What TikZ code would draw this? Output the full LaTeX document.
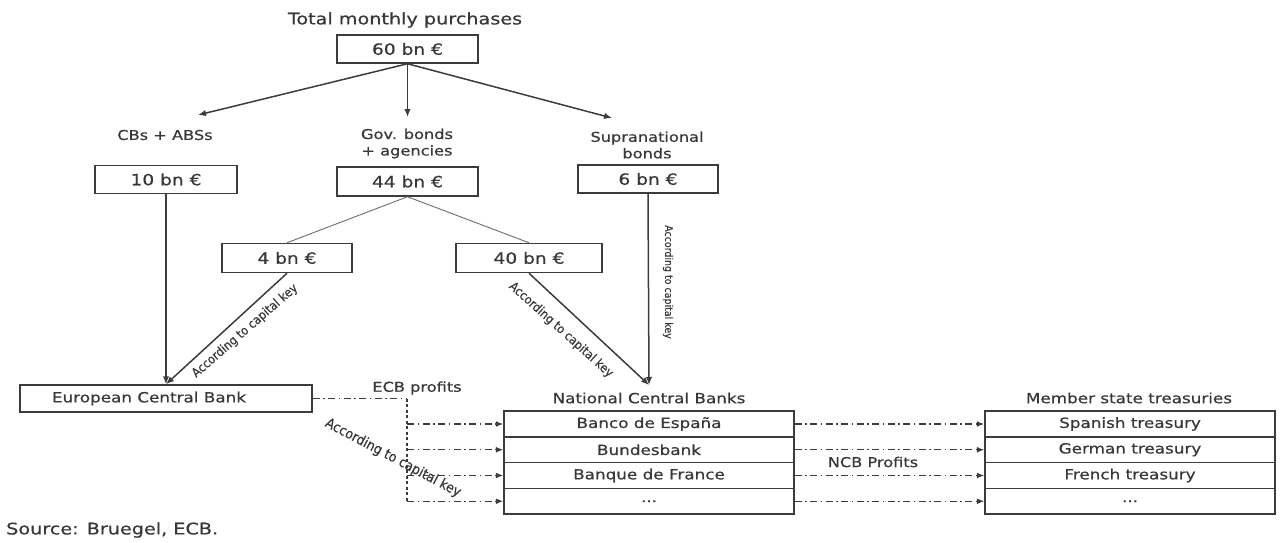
\documentclass[tikz,border=0pt]{standalone}
\usepackage{fontspec}
\setmainfont[FakeStretch=1.2,FakeBold=0.6]{DejaVu Sans}
\newfontfamily\condfont[FakeStretch=0.9,FakeBold=0.4]{DejaVu Sans}
\usetikzlibrary{arrows.meta}
\definecolor{ink}{HTML}{383838}
\definecolor{lineink}{HTML}{3C3C3C}
\begin{document}
\begin{tikzpicture}[x=1pt,y=-1pt,
  every node/.style={text=ink},
  box/.style={draw=lineink,line width=1.5pt,minimum height=28pt,inner sep=0pt,font=\fontsize{15.5}{18}\selectfont},
  rowbox/.style={draw=lineink,line width=1.5pt,minimum width=290pt,minimum height=25.75pt,inner sep=0pt,font=\fontsize{14}{16}\selectfont},
  lbl/.style={inner sep=1pt,align=center,font=\fontsize{13.5}{16.5}\selectfont},
  rot/.style={inner sep=0pt,font=\condfont\fontsize{12.5}{14}\selectfont},
  arr/.style={draw=lineink,line width=1.5pt,-{Latex[length=8pt,width=6.5pt]}},
  thin/.style={draw=lineink!75,line width=0.9pt},
  dd/.style={draw=lineink,line width=1.3pt,dash pattern=on 7pt off 3.5pt on 1.5pt off 3.5pt},
  dda/.style={dd,-{Latex[length=7.5pt,width=6pt]}},
  vd/.style={draw=lineink,line width=1.3pt,dash pattern=on 3pt off 2.5pt}
]
\useasboundingbox (0,0) rectangle (1282,543);
% titles and labels
\node[lbl,font=\fontsize{16}{19}\selectfont] (title) at (405,20) {Total monthly purchases};
\node[box,minimum width=141pt] (b60) at (407.5,49) {60 bn €};
\node[lbl] (lcb) at (165,135) {CBs + ABSs};
\node[lbl] (lgov) at (407,143.5) {Gov. bonds\\+ agencies};
\node[lbl] (lsup) at (647,145) {Supranational\\bonds};
\coordinate (tcb) at (198,115);
\coordinate (tgov) at (407.5,117);
\coordinate (tsup) at (612,118);
\draw[arr] (b60.south) -- (tcb);
\draw[arr] (b60.south) -- (tgov);
\draw[arr] (b60.south) -- (tsup);
% second level boxes
\node[box,minimum width=142pt] (b10) at (166,179.5) {10 bn €};
\node[box,minimum width=141pt,minimum height=29pt] (b44) at (407.5,181.5) {44 bn €};
\node[box,minimum width=140pt] (b6) at (648,179) {6 bn €};
\node[box,minimum width=130pt,minimum height=29pt] (b4) at (287,258) {4 bn €};
\node[box,minimum width=146pt,minimum height=29pt] (b40) at (529,258) {40 bn €};
\draw[thin] (b44.south) -- (b4.north);
\draw[thin] (b44.south) -- (b40.north);
% ECB
\node[box,minimum width=292pt,minimum height=27pt,font=\fontsize{14}{16}\selectfont] (ecb) at (166,398.5) {\makebox[264pt][l]{\hspace{18pt}European Central Bank}};
\draw[arr] (b10.south) -- (b10.south |- ecb.north);
\draw[arr] (b4.south) -- (ecb.north);
\node[rot,rotate=41] (k1) at (245,331) {According to capital key};
% NCB
\node[lbl,font=\fontsize{14}{16}\selectfont] (lncb) at (649,398) {National Central Banks};
\coordinate (tncb) at (649,385);
\draw[arr] (b40.south) -- (tncb);
\draw[arr] (b6.south) -- (tncb);
\node[rot,rotate=-42] (k2) at (561,330) {According to capital key};
\node[rot,rotate=-90,font=\condfont\fontsize{10.5}{12}\selectfont] (k3) at (668,282) {According to capital key};
\node[rowbox] (n1) at (649,424) {Banco de España};
\node[rowbox] (n2) at (649,449.75) {Bundesbank};
\node[rowbox] (n3) at (649,475.5) {Banque de France};
\node[rowbox] (n4) at (649,501.25) {...};
% treasuries
\node[lbl,font=\fontsize{14}{16}\selectfont] (ltr) at (1129,398) {Member state treasuries};
\node[rowbox] (t1) at (1130,424) {Spanish treasury};
\node[rowbox] (t2) at (1130,449.75) {German treasury};
\node[rowbox] (t3) at (1130,475.5) {French treasury};
\node[rowbox] (t4) at (1130,501.25) {...};
% ECB profits
\coordinate (split) at (407,398.5);
\coordinate (sbot) at (407,501.25);
\draw[dd] (ecb.east) -- (split);
\draw[vd] (split) -- (sbot);
\foreach \r in {n1,n2,n3,n4} {\draw[dda] (split |- \r.west) -- (\r.west);}
\node[lbl,font=\fontsize{13.5}{16}\selectfont] (lecb) at (417,388) {ECB profits};
\node[rot,rotate=-28,font=\condfont\fontsize{14}{16}\selectfont] (k4) at (393,458) {According to capital key};
% NCB profits
\draw[dda] (n1.east) -- (t1.west);
\draw[dda] (n2.east) -- (t2.west);
\draw[dda] (n3.east) -- (t3.west);
\draw[dda] (n4.east) -- (t4.west);
\node[lbl,font=\fontsize{13.5}{16}\selectfont] (lncbp) at (873,462) {NCB Profits};
% source
\node[lbl,anchor=west,font=\fontsize{16}{19}\selectfont] (src) at (5,530) {Source: Bruegel, ECB.};
\end{tikzpicture}
\end{document}
